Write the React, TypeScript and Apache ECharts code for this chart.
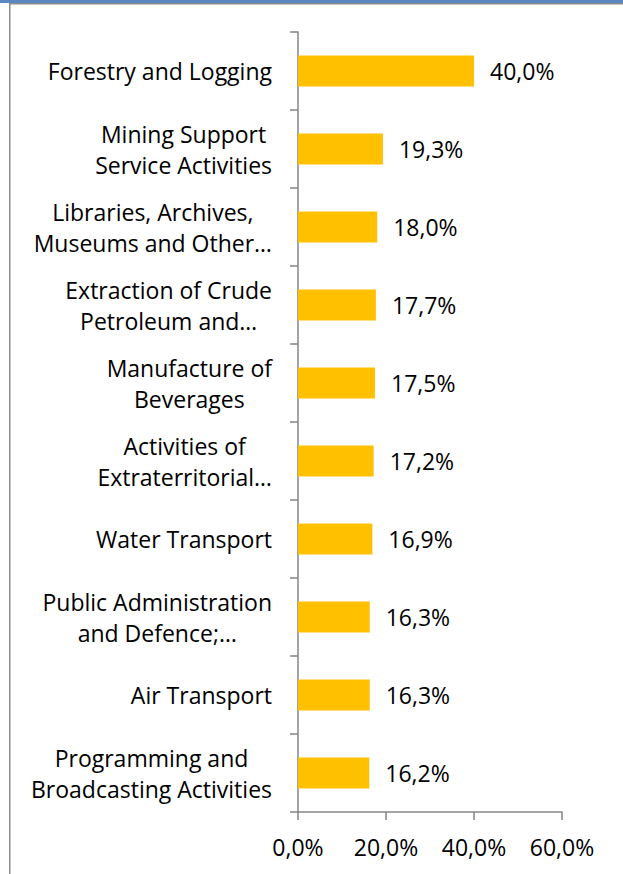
import React, { useEffect, useRef } from "react";
import * as echarts from "echarts";

const categories: string[] = [
  "Forestry and Logging",
  "Mining Support\nService Activities",
  "Libraries, Archives,\nMuseums and Other…",
  "Extraction of Crude\nPetroleum and…",
  "Manufacture of\nBeverages",
  "Activities of\nExtraterritorial…",
  "Water Transport",
  "Public Administration\nand Defence;…",
  "Air Transport",
  "Programming and\nBroadcasting Activities",
];

const values: number[] = [40.0, 19.3, 18.0, 17.7, 17.5, 17.2, 16.9, 16.3, 16.3, 16.2];

const xTicks: number[] = [0, 20, 40, 60];

const fmt = (v: number) => v.toFixed(1).replace(".", ",") + "%";

const FONT = "Open Sans";
const FS = 23;

export default function App() {
  const ref = useRef<HTMLDivElement>(null);
  useEffect(() => {
    if (!ref.current) return;
    const chart = echarts.init(ref.current, null, { renderer: "svg" });
    const axisColor = "#868686";
    chart.setOption({
      animation: false,
      backgroundColor: "#ffffff",
      textStyle: { fontFamily: FONT, fontSize: FS },
      grid: { left: 298, right: 61, top: 32, bottom: 62, containLabel: false },
      xAxis: {
        type: "value",
        min: xTicks[0],
        max: xTicks[xTicks.length - 1],
        interval: 20,
        splitLine: { show: false },
        axisLine: { show: true, lineStyle: { color: axisColor, width: 1.5 } },
        axisTick: { show: true, length: 8, lineStyle: { color: axisColor, width: 1.5 } },
        axisLabel: {
          margin: 23,
          color: "#000",
          fontSize: FS,
          fontFamily: FONT,
          formatter: (v: number) => fmt(v),
        },
      },
      yAxis: {
        type: "category",
        inverse: true,
        data: categories,
        axisLine: { show: true, lineStyle: { color: axisColor, width: 1.5 } },
        axisTick: { show: true, length: 8, alignWithLabel: false, lineStyle: { color: axisColor, width: 1.5 } },
        axisLabel: {
          margin: 26,
          color: "#000",
          fontSize: FS,
          fontFamily: FONT,
          align: "right",
          lineHeight: 31,
          formatter: (v: string) =>
            v
              .split("\n")
              .map((l) => "{c|" + l + "}")
              .join("\n"),
          rich: {
            c: {
              align: "center",
              color: "#000",
              fontSize: FS,
              fontFamily: FONT,
              lineHeight: 31,
            },
          },
        },
      },
      series: [
        {
          type: "bar",
          data: values,
          barWidth: "40%",
          itemStyle: { color: "#FFC000" },
          label: {
            show: true,
            position: "right",
            distance: 16,
            color: "#000",
            fontSize: FS,
            fontFamily: FONT,
            formatter: (p: any) => fmt(p.value),
          },
        },
      ],
      graphic: [
        { type: "rect", left: 0, top: 0, shape: { width: 623, height: 3 }, style: { fill: "#5B87C2" }, z: 100 },
        { type: "rect", left: 9, top: 3, shape: { width: 614, height: 1.5 }, style: { fill: "#8C8C8C" }, z: 100 },
        { type: "rect", left: 9, top: 3, shape: { width: 1.5, height: 871 }, style: { fill: "#8C8C8C" }, z: 100 },
      ],
    });
    return () => chart.dispose();
  }, []);
  return (
    <div
      ref={ref}
      style={{ position: "absolute", left: 0, top: 0, width: 623, height: 874 }}
    />
  );
}
